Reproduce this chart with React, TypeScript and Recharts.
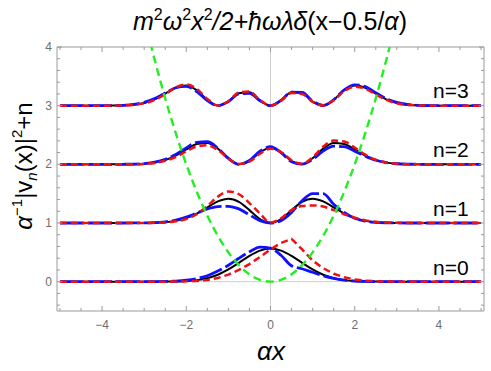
import React from 'react';
import { LineChart, Line, XAxis, YAxis, ReferenceLine } from 'recharts';

// sample positions (alpha*x)
const xs = [-5, -4.5, -4, -3.75, -3.5, -3.25, -3, -2.75, -2.5, -2.25, -2, -1.75, -1.5, -1.25, -1, -0.75, -0.5, -0.25, 0,
  0.25, 0.5, 0.75, 1, 1.25, 1.5, 1.75, 2, 2.25, 2.5, 2.75, 3, 3.25, 3.5, 3.75, 4, 4.5, 5];

// potential (green dashed)
const potential = [null, null, null, null, null, null, 4.5, 3.781, 3.125, 2.531, 2, 1.531, 1.125, 0.781, 0.5, 0.281, 0.125, 0.031, 0,
  0.031, 0.125, 0.281, 0.5, 0.781, 1.125, 1.531, 2, 2.531, 3.125, 3.781, 4.5, null, null, null, null, null, null];

// n = 0
const black0 = [0, 0, 0, 0, 0, 0, 0, 0.0003, 0.001, 0.0036, 0.0103, 0.0264, 0.0595, 0.1182, 0.2076, 0.3215, 0.4394, 0.5297, 0.5642,
  0.5297, 0.4394, 0.3215, 0.2076, 0.1182, 0.0595, 0.0264, 0.0103, 0.0036, 0.001, 0.0003, 0, 0, 0, 0, 0, 0, 0];
const blue0 = [0, 0, 0, 0, 0, 0, 0.0005, 0.0015, 0.004, 0.01, 0.024, 0.052, 0.1, 0.18, 0.28, 0.4, 0.51, 0.59, 0.57,
  0.45, 0.27, 0.22, 0.16, 0.1, 0.055, 0.026, 0.011, 0.004, 0.0012, 0.0003, 0, 0, 0, 0, 0, 0, 0];
const red0 = [0, 0, 0, 0, 0, 0, 0, 0, 0.0005, 0.0015, 0.005, 0.013, 0.03, 0.063, 0.12, 0.2, 0.3, 0.42, 0.55,
  0.66, 0.73, 0.55, 0.36, 0.23, 0.135, 0.075, 0.038, 0.017, 0.007, 0.0025, 0.0008, 0, 0, 0, 0, 0, 0];

// n = 1
const black1 = [0, 0, 0, 0, 0, 0.0003, 0.0013, 0.0044, 0.0136, 0.0361, 0.0827, 0.1616, 0.2675, 0.3694, 0.415, 0.3615, 0.2196, 0.0662, 0,
  0.0662, 0.2196, 0.3615, 0.415, 0.3694, 0.2675, 0.1616, 0.0827, 0.0361, 0.0136, 0.0044, 0.0013, 0.0003, 0, 0, 0, 0, 0];
const blue1 = [0, 0, 0, 0, 0, 0.0006, 0.002, 0.007, 0.02, 0.048, 0.1, 0.17, 0.24, 0.28, 0.285, 0.24, 0.14, 0.04, 0,
  0.04, 0.18, 0.38, 0.5, 0.5, 0.32, 0.18, 0.08, 0.03, 0.01, 0.003, 0.001, 0.0002, 0, 0, 0, 0, 0];
const red1 = [0, 0, 0, 0, 0, 0.0002, 0.0008, 0.003, 0.01, 0.028, 0.068, 0.15, 0.29, 0.45, 0.535, 0.49, 0.34, 0.16, 0.005,
  0.08, 0.22, 0.29, 0.3, 0.28, 0.22, 0.15, 0.09, 0.045, 0.02, 0.008, 0.003, 0.001, 0, 0, 0, 0, 0];

// n = 2
const black2 = [0, 0, 0, 0, 0.0008, 0.003, 0.0101, 0.0292, 0.072, 0.1487, 0.2532, 0.3466, 0.3642, 0.267, 0.1038, 0.0025, 0.0549, 0.2029, 0.2821,
  0.2029, 0.0549, 0.0025, 0.1038, 0.267, 0.3642, 0.3466, 0.2532, 0.1487, 0.072, 0.0292, 0.0101, 0.003, 0.0008, 0, 0, 0, 0];
const blue2 = [0, 0, 0, 0, 0.001, 0.004, 0.013, 0.036, 0.085, 0.17, 0.28, 0.375, 0.385, 0.275, 0.1, 0, 0.065, 0.225, 0.3,
  0.2, 0.045, 0.003, 0.085, 0.225, 0.31, 0.3, 0.225, 0.14, 0.07, 0.029, 0.01, 0.003, 0.0008, 0, 0, 0, 0];
const red2 = [0, 0, 0, 0, 0.0006, 0.002, 0.008, 0.024, 0.06, 0.125, 0.22, 0.305, 0.325, 0.245, 0.1, 0.005, 0.045, 0.18, 0.265,
  0.21, 0.07, 0.008, 0.12, 0.3, 0.405, 0.39, 0.285, 0.165, 0.078, 0.031, 0.011, 0.003, 0.0008, 0, 0, 0, 0];

// n = 3
const black3 = [0, 0, 0.0003, 0.0013, 0.0051, 0.0169, 0.047, 0.1085, 0.2048, 0.306, 0.3446, 0.2631, 0.1004, 0.001, 0.0692, 0.212, 0.2289, 0.0913, 0,
  0.0913, 0.2289, 0.212, 0.0692, 0.001, 0.1004, 0.2631, 0.3446, 0.306, 0.2048, 0.1085, 0.047, 0.0169, 0.0051, 0.0013, 0.0003, 0, 0];
const blue3 = [0, 0, 0.0004, 0.0017, 0.0065, 0.021, 0.055, 0.12, 0.215, 0.305, 0.33, 0.24, 0.085, 0, 0.07, 0.2, 0.21, 0.085, 0,
  0.09, 0.23, 0.225, 0.08, 0.003, 0.1, 0.27, 0.355, 0.325, 0.22, 0.12, 0.055, 0.02, 0.006, 0.0015, 0.0004, 0, 0];
const red3 = [0, 0, 0.0003, 0.0011, 0.0042, 0.014, 0.04, 0.097, 0.195, 0.31, 0.36, 0.285, 0.115, 0.003, 0.075, 0.225, 0.24, 0.095, 0,
  0.085, 0.215, 0.2, 0.065, 0.002, 0.09, 0.245, 0.325, 0.29, 0.19, 0.098, 0.041, 0.014, 0.0042, 0.0011, 0.0003, 0, 0];

// ticks: every 0.5 on x, every 0.2 on y; labelled ones are majors
const xTicks = [-5, -4.5, -4, -3.5, -3, -2.5, -2, -1.5, -1, -0.5, 0, 0.5, 1, 1.5, 2, 2.5, 3, 3.5, 4, 4.5, 5];
const xMajor = [-4, -2, 0, 2, 4];
const yTicks = [-0.4, -0.2, 0, 0.2, 0.4, 0.6, 0.8, 1, 1.2, 1.4, 1.6, 1.8, 2, 2.2, 2.4, 2.6, 2.8, 3, 3.2, 3.4, 3.6, 3.8, 4];
const yMajor = [0, 1, 2, 3, 4];
const levelLabels = ['n=0', 'n=1', 'n=2', 'n=3'];

const data = xs.map((x, i) => ({
  x,
  v: potential[i],
  k0: black0[i], b0: blue0[i], r0: red0[i],
  k1: black1[i] + 1, b1: blue1[i] + 1, r1: red1[i] + 1,
  k2: black2[i] + 2, b2: blue2[i] + 2, r2: red2[i] + 2,
  k3: black3[i] + 3, b3: blue3[i] + 3, r3: red3[i] + 3,
}));

const FONT = '"Liberation Sans", Arial, sans-serif';
const XDOM: [number, number] = [-5.07, 5.07];
const YDOM: [number, number] = [-0.5, 4];
const FRAME = '#9a9a9a';
const LABEL = '#6e6e6e';

const fmt = (v: number) => (v < 0 ? `\u2212${-v}` : `${v}`);

// frame tick drawn inward; side tells which way is "inside"
const makeTick = (side: 'bottom' | 'top' | 'left' | 'right', majors: number[], labels: boolean) =>
  (props: any) => {
    const { x, y, payload } = props;
    const v = payload.value;
    const major = majors.some((m) => Math.abs(m - v) < 1e-9);
    const len = major ? 5 : 3;
    let line;
    if (side === 'bottom') line = <line x1={x} y1={y} x2={x} y2={y - len} stroke={FRAME} />;
    else if (side === 'top') line = <line x1={x} y1={y} x2={x} y2={y + len} stroke={FRAME} />;
    else if (side === 'left') line = <line x1={x} y1={y} x2={x + len} y2={y} stroke={FRAME} />;
    else line = <line x1={x} y1={y} x2={x - len} y2={y} stroke={FRAME} />;
    return (
      <g>
        {line}
        {labels && major && side === 'bottom' && (
          <text x={x} y={y + 18} textAnchor="middle" fontSize={12} fill={LABEL} fontFamily={FONT}>{fmt(v)}</text>
        )}
        {labels && major && side === 'left' && (
          <text x={x - 5} y={y + 4} textAnchor="end" fontSize={12} fill={LABEL} fontFamily={FONT}>{fmt(v)}</text>
        )}
      </g>
    );
  };

const App: React.FC = () => {
  const series = [0, 1, 2, 3];
  return (
    <div style={{ position: 'absolute', left: 0, top: 0, width: 491, height: 371, background: '#fff' }}>
      <LineChart width={491} height={371} data={data} margin={{ top: 0, right: 0, bottom: 0, left: 0 }}>
        <XAxis xAxisId="x" dataKey="x" type="number" domain={XDOM} allowDataOverflow ticks={xTicks} interval={0}
          height={60} tickSize={0} tickMargin={0} tickLine={false} axisLine={{ stroke: FRAME }}
          tick={makeTick('bottom', xMajor, true)} />
        <XAxis xAxisId="t" orientation="top" dataKey="x" type="number" domain={XDOM} allowDataOverflow ticks={xTicks}
          interval={0} height={47} tickSize={0} tickMargin={0} tickLine={false} axisLine={{ stroke: FRAME }}
          tick={makeTick('top', xMajor, false)} />
        <YAxis yAxisId="y" type="number" domain={YDOM} allowDataOverflow ticks={yTicks} interval={0}
          width={57} tickSize={0} tickMargin={0} tickLine={false} axisLine={{ stroke: FRAME }}
          tick={makeTick('left', yMajor, true)} />
        <YAxis yAxisId="r" orientation="right" type="number" domain={YDOM} allowDataOverflow ticks={yTicks} interval={0}
          width={7} tickSize={0} tickMargin={0} tickLine={false} axisLine={{ stroke: FRAME }}
          tick={makeTick('right', yMajor, false)} />

        <ReferenceLine xAxisId="x" yAxisId="y" x={0} stroke="#cfcfcf" strokeWidth={1} />
        <ReferenceLine xAxisId="x" yAxisId="y" y={0} stroke="#cfcfcf" strokeWidth={1} />

        {series.map((n) => (
          <Line key={'k' + n} xAxisId="x" yAxisId="y" dataKey={'k' + n} type="monotone" stroke="#000"
            strokeWidth={2} dot={false} isAnimationActive={false} />
        ))}
        {series.map((n) => (
          <Line key={'b' + n} xAxisId="x" yAxisId="y" dataKey={'b' + n} type="monotone" stroke="#1010ff"
            strokeWidth={2.8} strokeDasharray="24 4" dot={false} isAnimationActive={false} />
        ))}
        {series.map((n) => (
          <Line key={'r' + n} xAxisId="x" yAxisId="y" dataKey={'r' + n} type={n === 0 ? 'linear' : 'monotone'}
            stroke="#ee1111" strokeWidth={2.5} strokeDasharray="7 4" dot={false} isAnimationActive={false} />
        ))}
        <Line xAxisId="x" yAxisId="y" dataKey="v" type="monotone" stroke="#22ee22" strokeWidth={2.4}
          strokeDasharray="8 5" dot={false} connectNulls={false} isAnimationActive={false} />
      </LineChart>

      <svg width={491} height={371} style={{ position: 'absolute', left: 0, top: 0, pointerEvents: 'none' }}
        fontFamily={FONT}>
        <text x={270} y={30} textAnchor="middle" fontSize={25} fill="#000">
          <tspan fontStyle="italic">m</tspan>
          <tspan fontSize={16} dy={-10}>2</tspan>
          <tspan fontStyle="italic" dy={10}>ω</tspan>
          <tspan fontSize={16} dy={-10}>2</tspan>
          <tspan fontStyle="italic" dy={10}>x</tspan>
          <tspan fontSize={16} dy={-10}>2</tspan>
          <tspan fontStyle="italic" dy={10}>/2+ħωλδ</tspan>
          <tspan>(x−0.5/</tspan>
          <tspan fontStyle="italic">α</tspan>
          <tspan>)</tspan>
        </text>

        <text transform="rotate(-90)" x={-166} y={32} textAnchor="middle" fontSize={24} fill="#000">
          <tspan fontStyle="italic">α</tspan>
          <tspan fontSize={15} dy={-10}>−1</tspan>
          <tspan dy={10}>|v</tspan>
          <tspan fontSize={15} fontStyle="italic" dy={5}>n</tspan>
          <tspan dy={-5}>(x)|</tspan>
          <tspan fontSize={15} dy={-10}>2</tspan>
          <tspan dy={10}>+n</tspan>
        </text>

        <text x={271} y={360} textAnchor="middle" fontSize={26} fontStyle="italic" fill="#000">αx</text>

        {levelLabels.map((t, n) => (
          <text key={t} x={433} y={275 - n * 59} fontSize={21} fill="#000">{t}</text>
        ))}
      </svg>
    </div>
  );
};

export default App;
